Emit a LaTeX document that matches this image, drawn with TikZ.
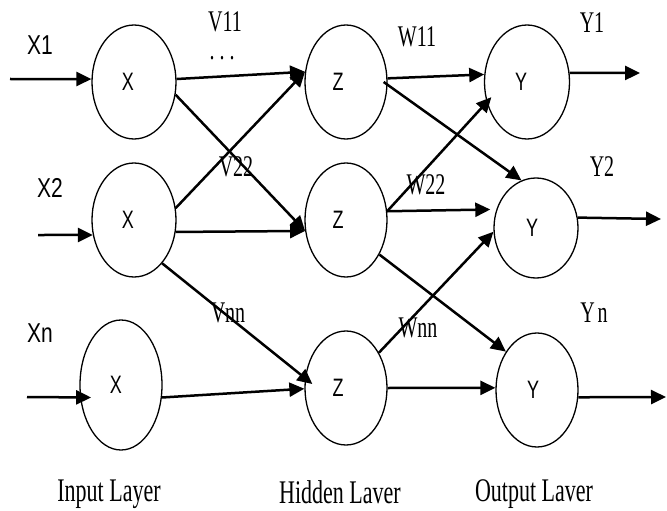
\documentclass[tikz,border=0pt]{standalone}
\usepackage{graphicx}
\usepackage{fontspec}
\setmainfont{Liberation Serif}
\newfontfamily\arialf{Liberation Sans}
\usetikzlibrary{arrows.meta,shapes.geometric}
\newcommand{\snlab}[2][1.3]{\scalebox{1}[#1]{\arialf #2}}
\newcommand{\srlab}[2][1.5]{\scalebox{1}[#1]{#2}}
\begin{document}
\begin{tikzpicture}[x=1pt,y=-1pt,
  neuron/.style={ellipse,draw,line width=1.3pt,inner sep=0pt,
    minimum width=84pt,minimum height=114pt,font=\fontsize{18}{18}\selectfont},
  conn/.style={line width=2.5pt,-{Triangle[length=15pt,width=14pt]}},
  sanslab/.style={font=\fontsize{21}{21}\selectfont,inner sep=0pt},
  seriflab/.style={font=\fontsize{20}{20}\selectfont,inner sep=0pt},
  layerlab/.style={font=\fontsize{22}{22}\selectfont,inner sep=0pt},
]
\useasboundingbox (0,0) rectangle (667,511);
% neurons
\node[neuron] (X1) at (134,82) {\snlab[1.4]{X}\hspace*{12pt}};
\node[neuron] (X2) at (134,220) {\snlab[1.4]{X}\hspace*{12pt}};
\node[neuron,minimum width=82pt,minimum height=130pt] (Xn) at (121,385) {\snlab[1.4]{X}\hspace*{10pt}};
\node[neuron,minimum width=82pt] (Z1) at (346,82) {\snlab[1.4]{Z}\hspace*{16pt}};
\node[neuron,minimum width=82pt] (Z2) at (346,220) {\snlab[1.4]{Z}\hspace*{16pt}};
\node[neuron,minimum width=82pt] (Z3) at (346,388) {\snlab[1.4]{Z}\hspace*{16pt}};
\node[neuron,minimum width=85pt] (Y1) at (527,82) {\snlab[1.4]{Y}\hspace*{12pt}};
\node[neuron,minimum width=84pt,minimum height=100pt] (Y2) at (536,228) {\snlab[1.4]{Y}\hspace*{8pt}};
\node[neuron,minimum width=82pt] (Yn) at (537,390) {\snlab[1.4]{Y}\hspace*{8pt}};
% labels
\node[sanslab] (lx1) at (40,45) {\snlab{X1}};
\node[sanslab] (lx2) at (50,188) {\snlab{X2}};
\node[sanslab] (lxn) at (40,333) {\snlab{Xn}};
\node[seriflab] (lv11) at (225,22) {\srlab{V11}};
\node[seriflab] (ldots) at (222,58) {\srlab{.\hspace{5pt}.\hspace{5pt}.}};
\node[seriflab] (lv22) at (236,167) {\srlab{V22}};
\node[seriflab] (lvnn) at (228,313) {\srlab{Vnn}};
\node[seriflab] (lw11) at (417,37) {\srlab{W11}};
\node[seriflab] (lw22) at (426,185) {\srlab{W22}};
\node[seriflab] (lwnn) at (418,328) {\srlab{Wnn}};
\node[seriflab] (ly1) at (592,23) {\srlab{Y1}};
\node[seriflab] (ly2) at (602,167) {\srlab{Y2}};
\node[seriflab] (lyn) at (594,313) {\srlab{Y\kern3pt n}};
\node[layerlab] (lin) at (109,494) {\srlab{Input Layer}};
\node[layerlab] (lhid) at (340,492) {\srlab{Hidden Laver}};
\node[layerlab] (lout) at (534,494) {\srlab{Output Laver}};
% free ends
\coordinate (x1in) at (10,79);
\coordinate (x2in) at (38,235);
\coordinate (xnin) at (27,397);
\coordinate (y1out) at (640,73);
\coordinate (y2out) at (661,219);
\coordinate (ynout) at (666,397);
% input arrows
\draw[conn] (x1in) -- (X1.176);
\draw[conn] (x2in) -- (X2.200);
\draw[conn] (xnin) -- ([xshift=11pt]Xn.197);
% input -> hidden
\draw[conn] (X1.4) -- (Z1.166);
\draw[conn] (X1.-17) -- (Z2.195);
\draw[conn] (X2.16) -- (Z1.166);
\draw[conn] (X2.-16) -- (Z2.195);
\draw[conn] (X2.-57) -- ([xshift=8pt,yshift=4pt]Z3.west);
\draw[conn] (Xn.-17) -- (Z3.181);
% hidden -> output
\draw[conn] (Z1.5) -- (Y1.170);
\draw[conn] ([xshift=-4pt]Z1.east) -- (Y2.107);
\draw[conn] (Z2.12) -- ([xshift=6pt]Y1.200);
\draw[conn] (Z2.12) -- ([xshift=-6pt]Y2.155);
\draw[conn] (Z2.-46) -- (Yn.129);
\draw[conn] (Z3.47) -- (Y2.185);
\draw[conn] (Z3.east) -- (Yn.177);
% output arrows
\draw[conn] (Y1.12) -- (y1out);
\draw[conn] (Y2.14) -- (y2out);
\draw[conn] (Yn.-10) -- (ynout);
\end{tikzpicture}
\end{document}
